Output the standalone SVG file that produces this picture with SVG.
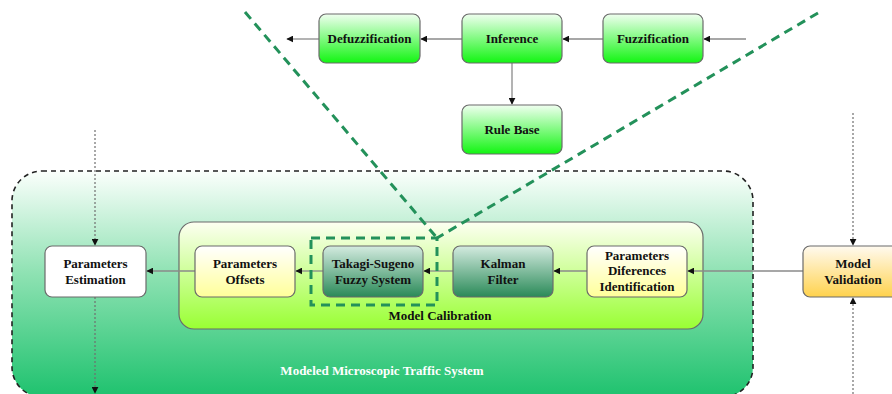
<svg xmlns="http://www.w3.org/2000/svg" width="892" height="394" viewBox="0 0 892 394">
  <style>
    .node { stroke: #6b6b6b; stroke-width: 1.2; }
    .lbl { font-family: "Liberation Serif", "Times New Roman", serif; font-weight: bold; font-size: 13px; fill: #111; text-anchor: middle; }
    .edge { stroke: #8a8a8a; stroke-width: 1.3; fill: none; marker-end: url(#arrow); }
    .dot { stroke: #6f6f6f; stroke-width: 1.2; fill: none; stroke-dasharray: 2 2; marker-end: url(#arrow); }
    .zoomline { stroke: #23915a; stroke-width: 3; fill: none; stroke-dasharray: 9 6; }
  </style>
  <defs>
    <marker id="arrow" viewBox="0 0 10 10" refX="9" refY="5" markerWidth="7" markerHeight="7" markerUnits="userSpaceOnUse" orient="auto">
      <path d="M0,0 L10,5 L0,10 z" fill="#111"/>
    </marker>
    <linearGradient id="gGreen" x1="0" y1="0" x2="0" y2="1">
      <stop offset="0" stop-color="#f0fff0"/>
      <stop offset="1" stop-color="#12f512"/>
    </linearGradient>
    <linearGradient id="gSystem" x1="0" y1="0" x2="0" y2="1">
      <stop offset="0" stop-color="#fbfffc"/>
      <stop offset="0.45" stop-color="#8fe2b3"/>
      <stop offset="1" stop-color="#1ec26e"/>
    </linearGradient>
    <linearGradient id="gCalib" x1="0" y1="0" x2="0" y2="1">
      <stop offset="0" stop-color="#fdfff2"/>
      <stop offset="1" stop-color="#99ff33"/>
    </linearGradient>
    <linearGradient id="gYellow" x1="0" y1="0" x2="0" y2="1">
      <stop offset="0" stop-color="#ffffff"/>
      <stop offset="1" stop-color="#ffff99"/>
    </linearGradient>
    <linearGradient id="gDark" x1="0" y1="0" x2="0" y2="1">
      <stop offset="0" stop-color="#d4ebe0"/>
      <stop offset="1" stop-color="#2a8a58"/>
    </linearGradient>
    <linearGradient id="gOrange" x1="0" y1="0" x2="0" y2="1">
      <stop offset="0" stop-color="#fffaf0"/>
      <stop offset="1" stop-color="#ffd24d"/>
    </linearGradient>
  </defs>

  <!-- containers -->
  <g id="system">
    <rect x="12" y="171" width="741" height="226" rx="30" fill="url(#gSystem)" stroke="#222" stroke-width="1.6" stroke-dasharray="5 4"/>
    <text x="382" y="375" class="lbl" style="fill:#fff">Modeled Microscopic Traffic System</text>
  </g>
  <g id="calibration">
    <rect x="179" y="222" width="524" height="107" rx="15" fill="url(#gCalib)" stroke="#6b6b6b" stroke-width="1.2"/>
    <text x="440" y="320" class="lbl">Model Calibration</text>
  </g>

  <!-- connectors -->
  <g id="connectors">
    <line class="edge" x1="746" y1="39" x2="704" y2="39"/>
    <line class="edge" x1="603" y1="39" x2="563" y2="39"/>
    <line class="edge" x1="462" y1="39" x2="421" y2="39"/>
    <line class="edge" x1="319" y1="39" x2="287" y2="39"/>
    <line class="edge" x1="512" y1="63" x2="512" y2="104"/>

    <line class="edge" x1="803" y1="271" x2="688" y2="271"/>
    <line class="edge" x1="587" y1="271" x2="554" y2="271"/>
    <line class="edge" x1="453" y1="271" x2="424" y2="271"/>
    <line class="edge" x1="323" y1="271" x2="296" y2="271"/>
    <line class="edge" x1="195" y1="271" x2="147" y2="271"/>

    <line class="dot" x1="95" y1="130" x2="95" y2="245"/>
    <line class="dot" x1="95" y1="297" x2="95" y2="393"/>
    <line class="dot" x1="853" y1="113" x2="853" y2="245"/>
    <line class="dot" x1="853" y1="394" x2="853" y2="298"/>
  </g>

  <!-- fuzzy system nodes -->
  <g id="defuzzification">
    <rect class="node" x="319" y="14" width="101" height="49" rx="7" fill="url(#gGreen)"/>
    <text class="lbl" x="369.5" y="43">Defuzzification</text>
  </g>
  <g id="inference">
    <rect class="node" x="462" y="14" width="100" height="49" rx="7" fill="url(#gGreen)"/>
    <text class="lbl" x="512" y="43">Inference</text>
  </g>
  <g id="fuzzification">
    <rect class="node" x="603" y="14" width="100" height="49" rx="7" fill="url(#gGreen)"/>
    <text class="lbl" x="653" y="43">Fuzzification</text>
  </g>
  <g id="rule-base">
    <rect class="node" x="462" y="105" width="100" height="49" rx="7" fill="url(#gGreen)"/>
    <text class="lbl" x="512" y="134">Rule Base</text>
  </g>

  <!-- calibration chain nodes -->
  <g id="parameters-estimation">
    <rect class="node" x="45" y="246" width="101" height="51" rx="7" fill="#fff"/>
    <text class="lbl" x="95.5" y="268">Parameters</text>
    <text class="lbl" x="95.5" y="284">Estimation</text>
  </g>
  <g id="parameters-offsets">
    <rect class="node" x="195" y="246" width="100" height="51" rx="7" fill="url(#gYellow)"/>
    <text class="lbl" x="245" y="268">Parameters</text>
    <text class="lbl" x="245" y="284">Offsets</text>
  </g>
  <g id="takagi-sugeno">
    <rect class="node" x="323" y="246" width="100" height="51" rx="7" fill="url(#gDark)"/>
    <text class="lbl" x="373" y="268">Takagi-Sugeno</text>
    <text class="lbl" x="373" y="284">Fuzzy System</text>
  </g>
  <g id="kalman-filter">
    <rect class="node" x="453" y="246" width="100" height="51" rx="7" fill="url(#gDark)"/>
    <text class="lbl" x="503" y="268">Kalman</text>
    <text class="lbl" x="503" y="284">Filter</text>
  </g>
  <g id="parameters-differences">
    <rect class="node" x="587" y="246" width="100" height="51" rx="7" fill="url(#gYellow)"/>
    <text class="lbl" x="637" y="260">Parameters</text>
    <text class="lbl" x="637" y="275">Diferences</text>
    <text class="lbl" x="637" y="291">Identification</text>
  </g>
  <g id="model-validation">
    <rect class="node" x="803" y="246" width="100" height="51" rx="7" fill="url(#gOrange)"/>
    <text class="lbl" x="853" y="268">Model</text>
    <text class="lbl" x="853" y="284">Validation</text>
  </g>

  <!-- detail callout: zoomed fuzzy system -->
  <g id="callout">
    <rect class="zoomline" x="311" y="238" width="126" height="67"/>
    <line class="zoomline" x1="245" y1="12" x2="437" y2="238"/>
    <line class="zoomline" x1="818" y1="13" x2="437" y2="238"/>
  </g>
</svg>
